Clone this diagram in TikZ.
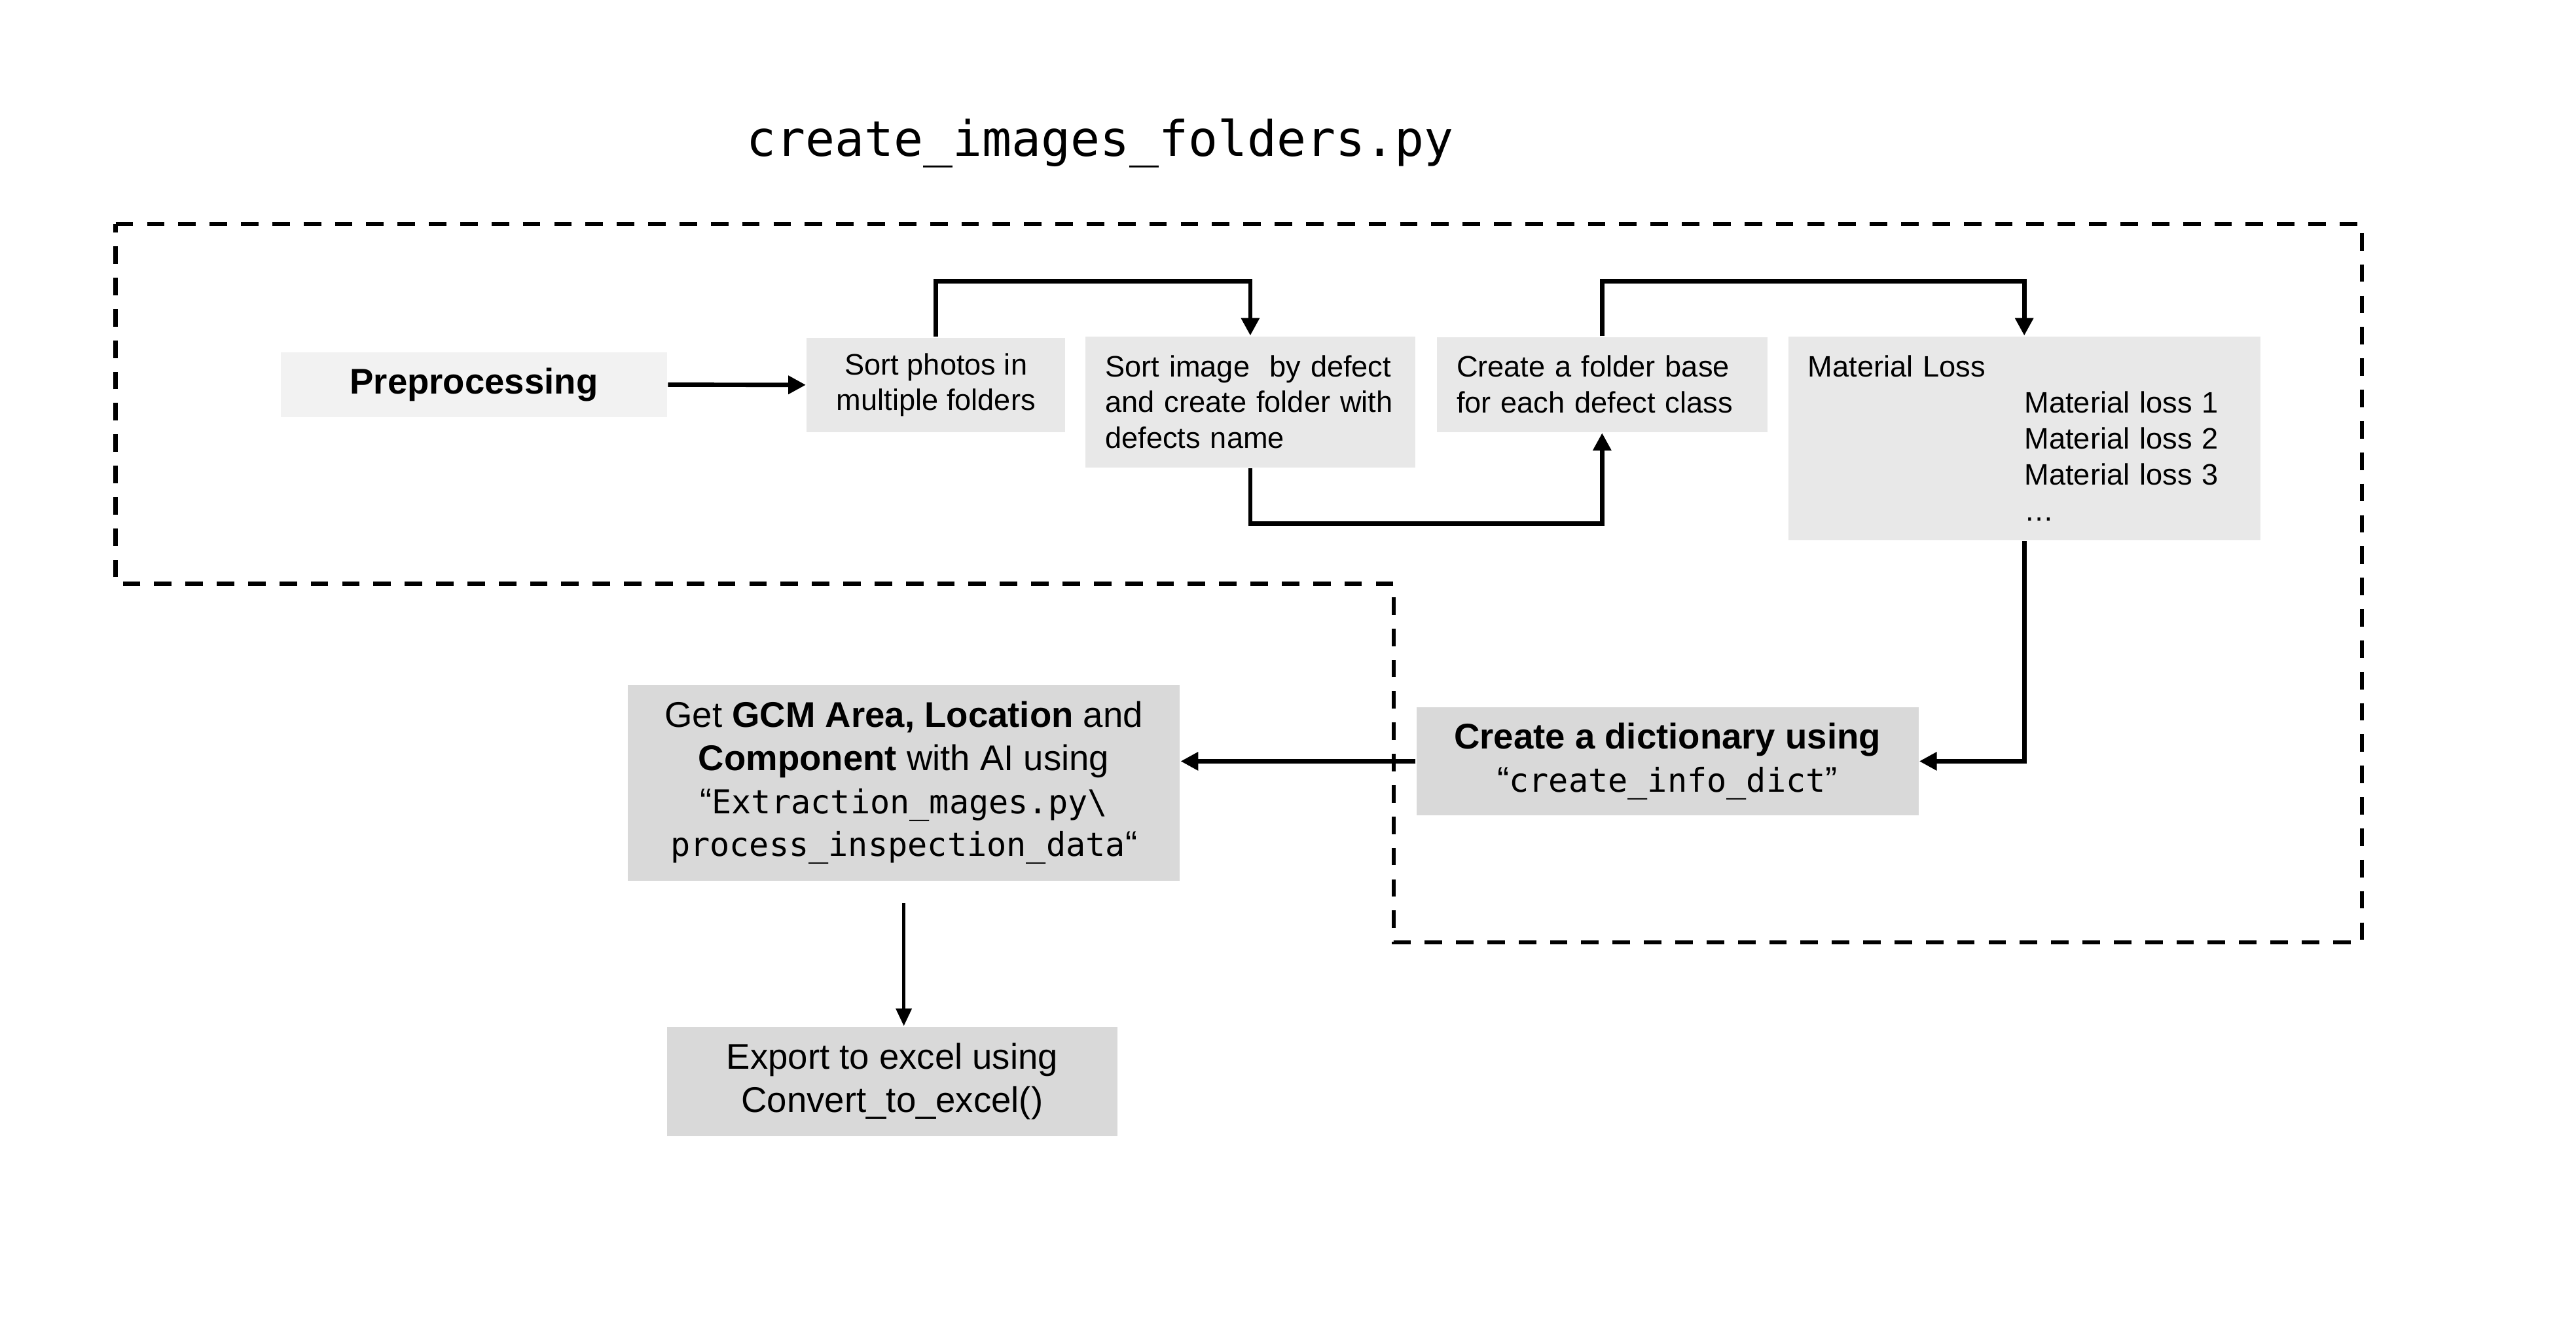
\documentclass[tikz,border=0pt]{standalone}
\usepackage{fontspec}
\usepackage{tikz}
\usepackage{xcolor}
\setmainfont{Liberation Sans}
\newfontfamily\codefont{DejaVu Sans Mono}
\usetikzlibrary{arrows.meta}
\definecolor{prepgray}{HTML}{F2F2F2}
\definecolor{stepgray}{HTML}{E8E8E8}
\definecolor{outgray}{HTML}{D9D9D9}
\newcommand{\boxfont}{\fontsize{13.5pt}{16.4pt}\selectfont}
\newcommand{\bigfont}{\fontsize{16.3pt}{19.6pt}\selectfont}
\newcommand{\pycode}[1]{{\codefont\fontsize{15pt}{19.6pt}\selectfont #1}}
\tikzset{every picture/.style={line width=0.75pt}}
\tikzset{
  stepbox/.style={fill=stepgray, inner xsep=9pt, inner ysep=0pt, align=left, font=\boxfont},
  outbox/.style={fill=outgray, inner sep=0pt, align=center, font=\bigfont},
  flow/.style={line width=2pt, -{Triangle[length=8pt,width=8pt]}},
  flowthin/.style={line width=1.6pt, -{Triangle[length=8pt,width=7pt]}},
  region/.style={line width=2pt, dash pattern={on 8pt off 6.3pt}}
}

\begin{document}
\begin{tikzpicture}[x=0.75pt,y=0.75pt,yscale=-1,xscale=1]
\useasboundingbox (0,0) rectangle (1568,810.1);

%Script name
\draw (453.9,95.2) node [anchor=base west, inner sep=0pt, font={\codefont\fontsize{22.35pt}{26pt}\selectfont}] (title) {create\_images\_folders.py};

%Dashed region
\draw [region] (70.4,136.3) -- (1437.7,136.3) -- (1437.7,573.4) -- (848.4,573.4) -- (848.4,355.3) -- (70.4,355.3) -- cycle ;

%Top row
\draw (288.45,234.1) node [fill=prepgray, inner sep=0pt, minimum width=176.5pt, minimum height=29.7pt, font=\bigfont] (prep) {\textbf{Preprocessing}};
\draw (569.75,234.2) node [fill=stepgray, inner sep=0pt, minimum width=118.1pt, minimum height=43.1pt, align=center, font=\boxfont] (sortph) {Sort photos in\\multiple folders};
\draw (761.05,244.55) node [stepbox, text width=132.5pt, minimum height=59.8pt] (sortim) {Sort image\ \ by defect\\and create folder with\\defects name};
\draw (975.2,234) node [stepbox, text width=132.9pt, minimum height=43.4pt] (mkfold) {Create a folder base\\for each defect class};
\draw (1232.15,266.7) node [stepbox, text width=197.5pt, minimum height=93pt] (matloss) {Material Loss\\\hspace*{98.9pt}Material loss 1\\\hspace*{98.9pt}Material loss 2\\\hspace*{98.9pt}Material loss 3\\\hspace*{98.9pt}…};

%Bottom row
\draw (1014.95,463.2) node [outbox, minimum width=229.2pt, minimum height=49.3pt] (dict) {\textbf{Create a dictionary using}\\“\pycode{create\_info\_dict}”};
\draw (550.15,476.35) node [outbox, minimum width=252pt, minimum height=89.5pt] (gcm) {Get \textbf{GCM Area, Location} and\\\textbf{Component} with AI using\\“\pycode{Extraction\_mages.py\textbackslash}\\\pycode{process\_inspection\_data}“};
\draw (543.1,658.1) node [outbox, minimum width=205.6pt, minimum height=49.9pt] (export) {Export to excel using\\Convert\_to\_excel()};

%Connectors
\draw [flow] (prep.east) -- (sortph.west) ;
\draw [flow] (sortph.north) -- ++(0,-33.9) -| (sortim.north) ;
\draw [flow] (sortim.south) -- ++(0,33.6) -| (mkfold.south) ;
\draw [flow] (mkfold.north) -- ++(0,-33.5) -| (matloss.north) ;
\draw [flow] (matloss.south) |- (dict.east) ;
\draw [flow] (dict.west) -- (dict.west -| gcm.east) ;
\draw [flowthin] ([yshift=9.75pt]gcm.south) -- (gcm.south |- export.north) ;

\end{tikzpicture}
\end{document}
